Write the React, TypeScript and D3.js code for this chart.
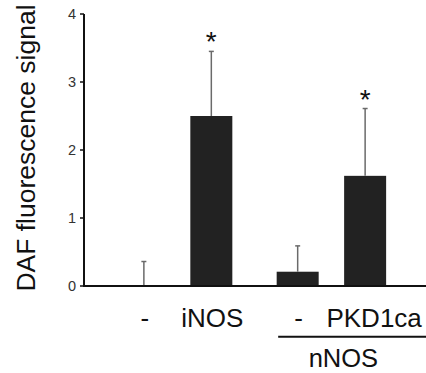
import React from 'react';
import * as d3 from 'd3';

// values
const groups = ['none', 'nNOS'];
const categories = ['-', 'iNOS', '-', 'PKD1ca'];
const barGroup = ['none', 'none', 'nNOS', 'nNOS'];
const barSlot = ['a', 'b', 'a', 'b'];
const values = [0, 2.5, 0.21, 1.62];
const errors = [0.36, 0.95, 0.38, 0.99];
const significant = [false, true, false, true];
const yTicks = [0, 1, 2, 3, 4];

const W = 426;
const H = 373;
const FONT = '"Liberation Sans", Arial, sans-serif';

export default function App() {
  const y = d3.scaleLinear().domain([0, 4]).range([286, 14]);

  const xGroup = d3.scaleBand().domain(groups).range([100.7, 408.3]).padding(0);
  const xSlot = d3.scalePoint().domain(['a', 'b']).range([0, xGroup.bandwidth()]).padding(0.64);
  const barW = 42;
  const cx = (i: number) => (xGroup(barGroup[i]) ?? 0) + (xSlot(barSlot[i]) ?? 0);

  const axisX = 84;
  const nnosLeft = cx(2) - barW / 2;
  const nnosCenter = (xGroup('nNOS') ?? 0) + xGroup.bandwidth() / 2;

  return (
    <svg width={W} height={H} style={{ position: 'absolute', left: 0, top: 0, background: '#fff' }} fontFamily={FONT}>
      {/* y label */}
      <text transform={`translate(35,${(y(0) + 4) / 2 + 3}) rotate(-90)`} textAnchor="middle" fontSize={26.5} fill="#111">
        DAF fluorescence signal
      </text>

      {/* bars */}
      {values.map((v, i) => (
        <rect key={'b' + i} x={cx(i) - barW / 2} y={y(v)} width={barW} height={y(0) - y(v)} fill="#222" />
      ))}

      {/* error bars, upward only */}
      {values.map((v, i) => (
        <g key={'e' + i} stroke="#6a6a6a" strokeWidth={1.5}>
          <line x1={cx(i)} x2={cx(i)} y1={y(v)} y2={y(v + errors[i])} />
          <line x1={cx(i) - 2.5} x2={cx(i) + 2.5} y1={y(v + errors[i])} y2={y(v + errors[i])} />
        </g>
      ))}

      {/* significance stars */}
      {values.map((v, i) =>
        significant[i] ? (
          <text key={'s' + i} x={cx(i)} y={y(v + errors[i])} textAnchor="middle" fontSize={28} fill="#111">
            *
          </text>
        ) : null
      )}

      {/* axes */}
      <line x1={axisX} x2={axisX} y1={y(4)} y2={y(0) + 1} stroke="#111" strokeWidth={2} />
      <line x1={axisX} x2={W} y1={y(0)} y2={y(0)} stroke="#111" strokeWidth={2} />
      {yTicks.map(t => (
        <g key={'t' + t}>
          <line x1={axisX - 4} x2={axisX} y1={y(t)} y2={y(t)} stroke="#111" strokeWidth={1.5} />
          <text x={axisX - 8} y={y(t)} dy="0.35em" textAnchor="end" fontSize={14.5} fill="#333">
            {t}
          </text>
        </g>
      ))}

      {/* category labels */}
      {categories.map((c, i) => (
        <text key={'c' + i} x={cx(i) + (i === categories.length - 1 ? 9 : 1)} y={326.5} textAnchor="middle" fontSize={26} fill="#111">
          {c}
        </text>
      ))}

      {/* nNOS group bracket */}
      <line x1={nnosLeft + 1.5} x2={W} y1={336.7} y2={336.7} stroke="#111" strokeWidth={2} />
      <text x={nnosCenter + 12} y={367} textAnchor="middle" fontSize={25.5} fill="#111">
        nNOS
      </text>
    </svg>
  );
}
